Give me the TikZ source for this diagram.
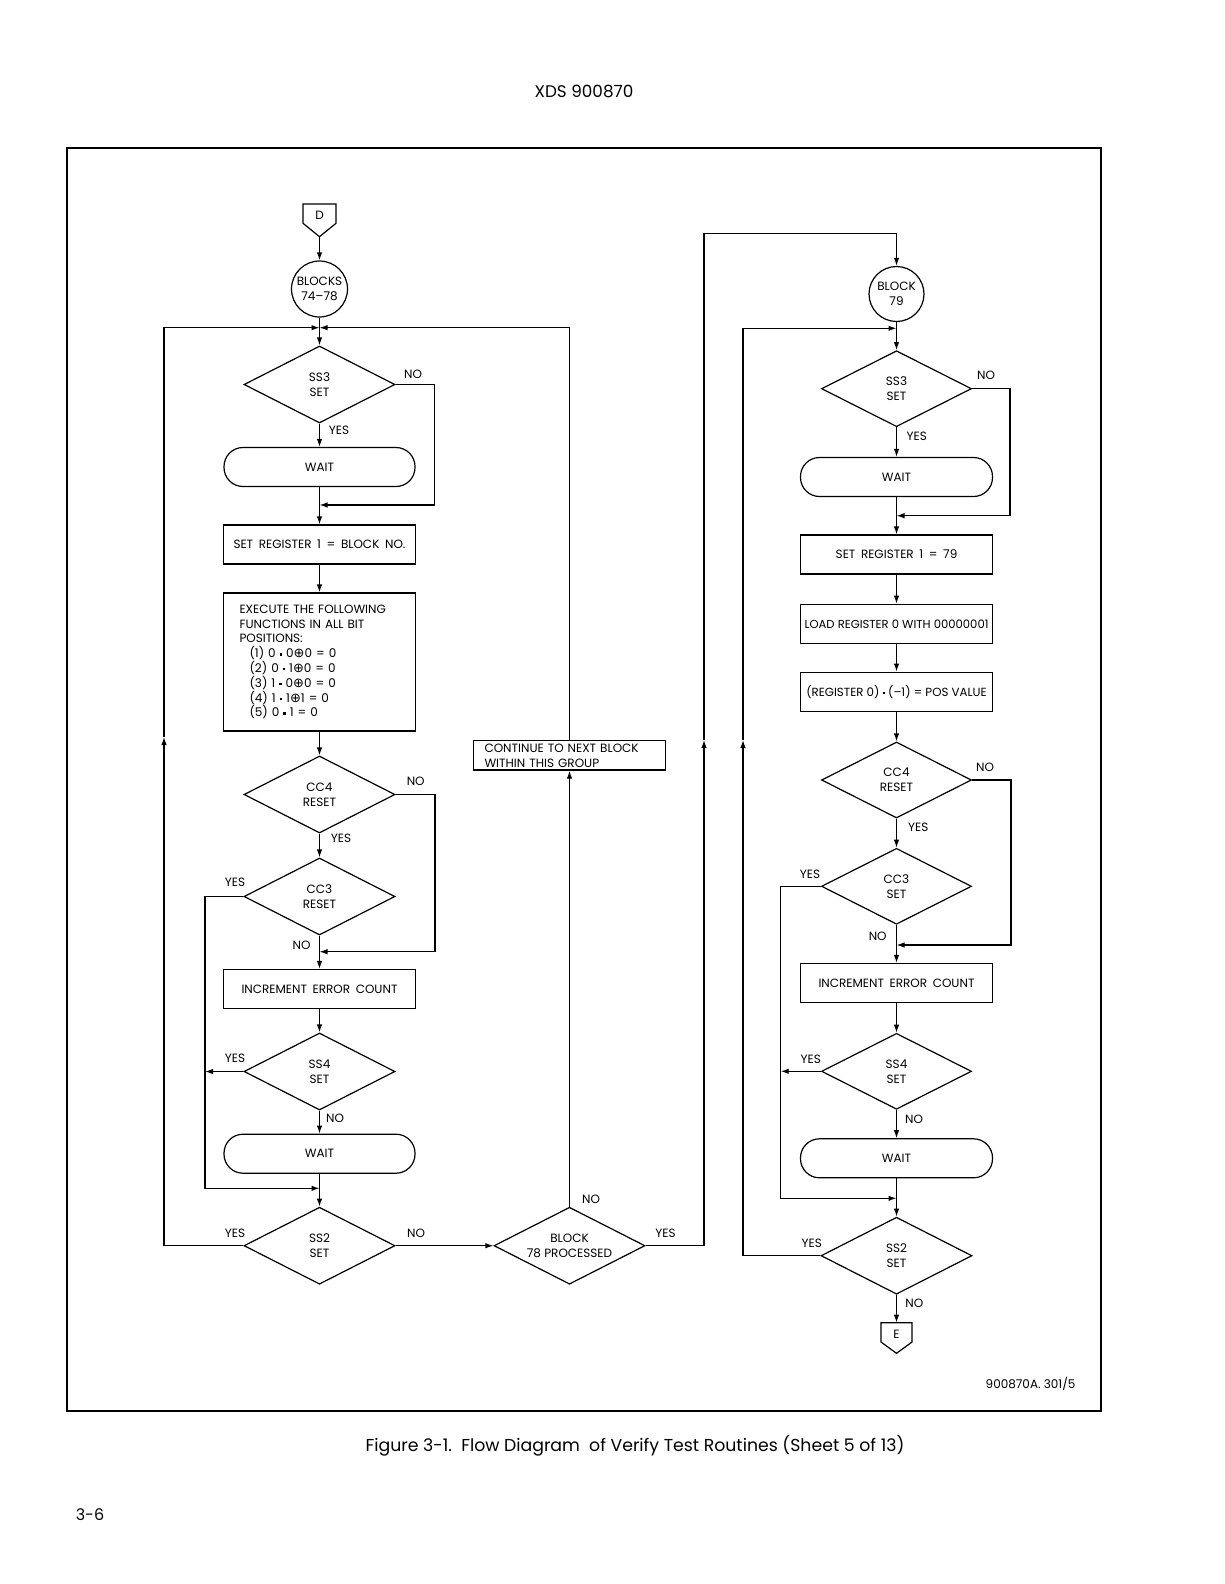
\documentclass[tikz,border=0pt]{standalone}
\usepackage{fontspec}
\setmainfont{Poppins}
\newfontfamily\dvfont{DejaVu Sans}
\usetikzlibrary{arrows.meta,shapes.geometric}
\newcommand\dfont{\fontsize{12}{15}\selectfont\spaceskip=0.47em plus 0.1em minus 0.05em\relax}
\newcommand\cfont{\fontsize{12}{15}\selectfont}
\newcommand\efont{\fontsize{12}{14.8}\selectfont\spaceskip=0.5em plus 0.1em minus 0.05em\relax}
\newcommand\dotb{\raisebox{0.32ex}{\rule{2.4pt}{2.4pt}}}
\newcommand\xo{{\dvfont\fontsize{13}{14}\selectfont ⊕}}
\begin{document}
\begin{tikzpicture}[x=1pt,y=-1pt,line width=1.2pt,
 arr/.style={-{Latex[length=8pt,width=5.5pt]}},
 dec/.style={diamond,draw,shape aspect=2,minimum width=151pt,minimum height=77pt,inner sep=0pt,font=\cfont,align=center},
 box/.style={rectangle,draw,minimum width=192pt,minimum height=39pt,inner sep=0pt,font=\dfont,align=center},
 term/.style={rectangle,draw,rounded corners=19pt,minimum width=191pt,minimum height=39pt,inner sep=0pt,font=\cfont},
 circ/.style={circle,draw,minimum size=56pt,inner sep=0pt,font=\cfont,align=center},
 lab/.style={font=\cfont,inner sep=0pt}]
\useasboundingbox (0,0) rectangle (1224,1584);
\fill[white] (0,0) rectangle (1224,1584);

% page furniture
\node[font=\fontsize{16.8}{19}\selectfont] (hdr) at (584,91) {XDS 900870};
\draw[line width=2pt] (67,148.3) rectangle (1100.7,1411);
\node[font=\fontsize{17.3}{20}\selectfont] (cap) at (635,1446) {Figure 3-1.\ \ Flow Diagram\ \ of Verify Test Routines (Sheet 5 of 13)};
\node[font=\fontsize{16}{19}\selectfont] (pg) at (90,1515) {3-6};
\node[font=\fontsize{12}{14}\selectfont] (ref) at (1030.6,1384) {900870A. 301/5};

% ---------- left column ----------
\draw (303,204) -- (336,204) -- (336,223.3) -- (319.5,236.7) -- (303,223.3) -- cycle;
\node[lab] (D) at (319.5,215.5) {D};
\coordinate (Dtip) at (319.5,236.7);
\node[circ] (B1) at (319.5,289) {BLOCKS\\74--78};
\coordinate (J1) at (319.5,327.7);
\node[dec] (SS3L) at (319.5,384.5) {SS3\\SET};
\node[term] (W1) at (319.5,467) {WAIT};
\coordinate (N1) at (319.5,505);
\node[box] (SR1) at (319.5,544.5) {SET REGISTER 1 = BLOCK NO.};
\node[box,minimum height=138pt,align=left,text width=160pt,font=\efont] (EX) at (319.5,662)
 {EXECUTE THE FOLLOWING\\FUNCTIONS IN ALL BIT\\POSITIONS:\\
  \hspace*{10pt}(1) 0 \dotb\ 0\xo0 = 0\\
  \hspace*{10pt}(2) 0 \dotb\ 1\xo0 = 0\\
  \hspace*{10pt}(3) 1 \dotb\ 0\xo0 = 0\\
  \hspace*{10pt}(4) 1 \dotb\ 1\xo1 = 0\\
  \hspace*{10pt}(5) 0 \dotb\ 1 = 0};
\node[dec] (CC4L) at (319.5,794.5) {CC4\\RESET};
\node[dec] (CC3L) at (319.5,896.5) {CC3\\RESET};
\coordinate (N2) at (319.5,951.7);
\node[box] (INC1) at (319.5,989) {INCREMENT ERROR COUNT};
\node[dec] (SS4L) at (319.5,1071.5) {SS4\\SET};
\coordinate (Y4L) at (205,1071.5);
\node[term] (W2) at (319.5,1153.7) {WAIT};
\coordinate (M2) at (319.5,1188.3);
\node[dec] (SS2L) at (319.5,1245.7) {SS2\\SET};
\coordinate (LA) at (164,737);
\node[dec] (B78) at (569.5,1245.7) {BLOCK\\78 PROCESSED};
\node[box,minimum height=29.3pt,align=left,text width=170pt] (CONT) at (569.5,755.4) {CONTINUE TO NEXT BLOCK\\WITHIN THIS GROUP};
\coordinate (RA) at (704,740);
\coordinate (RT) at (704,233.3);

\draw[arr] (Dtip) -- (B1.north);
\draw[arr] (B1.south) -- (SS3L.north);
\draw[arr] (SS3L.south) -- (W1.north);
\draw[arr] (SS3L.east) -- (434.3,384.5) |- (N1);
\draw[arr] (W1.south) -- (SR1.north);
\draw[arr] (SR1.south) -- (EX.north);
\draw[arr] (EX.south) -- (CC4L.north);
\draw[arr] (CC4L.south) -- (CC3L.north);
\draw[arr] (CC4L.east) -- (435,794.5) |- (N2);
\draw[arr] (CC3L.south) -- (INC1.north);
\draw[arr] (CC3L.west) -- (205,896.5) |- (M2);
\draw[arr] (INC1.south) -- (SS4L.north);
\draw[arr] (SS4L.west) -- (Y4L);
\draw[arr] (SS4L.south) -- (W2.north);
\draw[arr] (W2.south) -- (SS2L.north);
\draw[arr] (SS2L.west) -| (LA);
\draw[arr] (LA) |- (J1);
\draw[arr] (SS2L.east) -- (B78.west);
\draw[arr] (B78.north) -- (CONT.south);
\draw[arr] (CONT.north) |- (J1);
\draw[arr] (B78.east) -| (RA);

\node[lab] (l1) at (413,374) {NO};
\node[lab] (l2) at (339,430.7) {YES};
\node[lab] (l3) at (415.7,781) {NO};
\node[lab] (l4) at (341,838.3) {YES};
\node[lab] (l5) at (235,882.7) {YES};
\node[lab] (l6) at (301.5,945) {NO};
\node[lab] (l7) at (235,1058) {YES};
\node[lab] (l8) at (335,1118) {NO};
\node[lab] (l9) at (235,1233) {YES};
\node[lab] (l10) at (416,1233) {NO};
\node[lab] (l11) at (591,1199) {NO};
\node[lab] (l12) at (665.5,1233) {YES};

% ---------- right column ----------
\node[circ,minimum size=55pt] (B79) at (896.5,294) {BLOCK\\79};
\draw[arr] (RA) -- (RT) -| (B79.north);
\coordinate (J2) at (896.5,328.3);
\node[dec,minimum width=150pt,minimum height=76pt] (SS3R) at (896.5,388.7) {SS3\\SET};
\node[term,minimum width=192pt] (W3) at (896.5,477) {WAIT};
\coordinate (N3) at (896.5,515.7);
\node[box] (SR2) at (896.5,554.5) {SET REGISTER 1 = 79};
\node[box,font=\fontsize{11.6}{15}\selectfont] (LD) at (896.5,623.8) {LOAD REGISTER 0 WITH 00000001};
\node[box,font=\fontsize{11.8}{15}\selectfont] (RG) at (896.5,691.7) {(REGISTER 0) \dotb\ (--1) = POS VALUE};
\node[dec,minimum width=150pt,minimum height=76pt] (CC4R) at (896.5,780) {CC4\\RESET};
\node[dec,minimum width=150pt,minimum height=76pt] (CC3R) at (896.5,886.3) {CC3\\SET};
\coordinate (N4) at (896.5,945);
\node[box] (INC2) at (896.5,983) {INCREMENT ERROR COUNT};
\node[dec,minimum width=150pt,minimum height=76pt] (SS4R) at (896.5,1071.3) {SS4\\SET};
\coordinate (Y4R) at (780.7,1071.3);
\node[term,minimum width=192pt] (W4) at (896.5,1158.3) {WAIT};
\coordinate (M4) at (896.5,1198.3);
\node[dec] (SS2R) at (896.5,1255.7) {SS2\\SET};
\coordinate (RB) at (743,740);
\draw (881,1322.7) -- (912,1322.7) -- (912,1342) -- (896.5,1353.3) -- (881,1342) -- cycle;
\node[lab] (E) at (896.5,1334) {E};
\coordinate (Etop) at (896.5,1322.7);

\draw[arr] (B79.south) -- (SS3R.north);
\draw[arr] (SS2R.west) -| (RB);
\draw[arr] (RB) |- (J2);
\draw[arr] (SS3R.south) -- (W3.north);
\draw[arr] (SS3R.east) -- (1010,388.7) |- (N3);
\draw[arr] (W3.south) -- (SR2.north);
\draw[arr] (SR2.south) -- (LD.north);
\draw[arr] (LD.south) -- (RG.north);
\draw[arr] (RG.south) -- (CC4R.north);
\draw[arr] (CC4R.south) -- (CC3R.north);
\draw[arr] (CC4R.east) -- (1011,780) |- (N4);
\draw[arr] (CC3R.south) -- (INC2.north);
\draw[arr] (CC3R.west) -- (780.7,886.3) |- (M4);
\draw[arr] (INC2.south) -- (SS4R.north);
\draw[arr] (SS4R.west) -- (Y4R);
\draw[arr] (SS4R.south) -- (W4.north);
\draw[arr] (W4.south) -- (SS2R.north);
\draw[arr] (SS2R.south) -- (Etop);

\node[lab] (r1) at (986,375.3) {NO};
\node[lab] (r2) at (916.7,436) {YES};
\node[lab] (r3) at (985,767.7) {NO};
\node[lab] (r4) at (918.3,827.3) {YES};
\node[lab] (r5) at (810,874) {YES};
\node[lab] (r6) at (877.7,936) {NO};
\node[lab] (r7) at (810.7,1059.3) {YES};
\node[lab] (r8) at (914,1119.3) {NO};
\node[lab] (r9) at (811.7,1243.3) {YES};
\node[lab] (r10) at (914.3,1303.3) {NO};
\end{tikzpicture}
\end{document}
